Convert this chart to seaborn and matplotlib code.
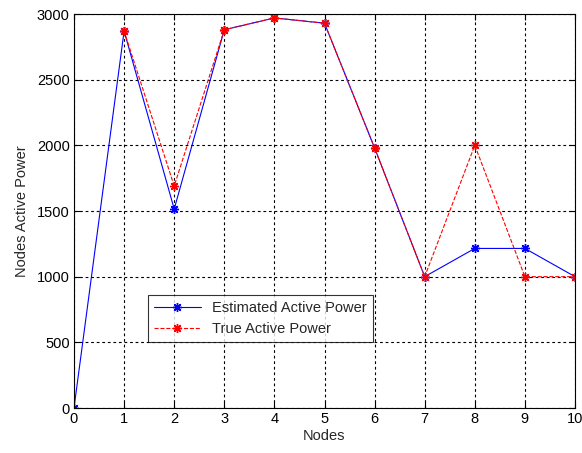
import pandas as pd
import numpy as np
import seaborn as sns
from matplotlib import pyplot as plt

# Node values
est_nodes = [0, 1, 2, 3, 4, 5, 6, 7, 8, 9, 10]
est_power = [0, 2870, 1515, 2880, 2970, 2930, 1980, 1000, 1215, 1215, 1000]

true_nodes = [1, 2, 3, 4, 5, 6, 7, 8, 9, 10]
true_power = [2870, 1690, 2880, 2970, 2930, 1980, 1000, 2000, 1000, 1000]

est_df = pd.DataFrame({'node': est_nodes, 'power': est_power})
true_df = pd.DataFrame({'node': true_nodes, 'power': true_power})

sns.set_style('white')
plt.rcParams['font.family'] = ['Liberation Sans', 'DejaVu Sans']

fig = plt.figure(figsize=(5.82, 4.53), dpi=100)
ax = fig.add_axes([74/582, 1 - 408/453, 501/582, 394/453])

# asterisk marker like MATLAB's '*'
star = (8, 2, 0)

sns.lineplot(data=est_df, x='node', y='power', ax=ax, color='blue',
             linewidth=0.8, marker=star, markersize=6.5, markeredgewidth=1,
             markeredgecolor='blue', label='Estimated Active Power')
sns.lineplot(data=true_df, x='node', y='power', ax=ax, color='red',
             linewidth=0.8, linestyle='--', dashes=(3, 2), marker=star,
             markersize=6.5, markeredgewidth=1, markeredgecolor='red',
             label='True Active Power')

ax.set_xlim(0, 10)
ax.set_ylim(0, 3000)
ax.set_xticks(range(0, 11))
ax.set_yticks(range(0, 3001, 500))
ax.grid(True, color='black', linestyle=(0, (2.5, 2.5)), linewidth=0.8)
for s in ax.spines.values():
    s.set_color('black')
    s.set_linewidth(0.8)
ax.tick_params(direction='in', length=4, labelsize=10.5, colors='black',
               bottom=True, left=True, top=True, right=True, pad=3)
ax.set_xlabel('Nodes', fontsize=10.5, labelpad=2)
ax.set_ylabel('Nodes Active Power', fontsize=10.5, labelpad=6)

leg = ax.legend(loc='lower left', bbox_to_anchor=(0.148, 0.168), fontsize=10.5,
                frameon=True, fancybox=False, edgecolor='black',
                borderaxespad=0, handlelength=3.2)
leg.get_frame().set_linewidth(0.8)

fig.savefig('out.png', dpi=100)
